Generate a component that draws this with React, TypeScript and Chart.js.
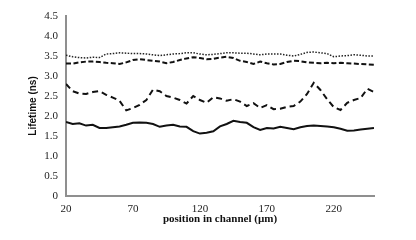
import React, { useEffect, useRef } from "react";
import { Chart, registerables } from "chart.js";

Chart.register(...registerables);

const positions = [20, 25, 30, 35, 40, 45, 50, 55, 60, 65, 70, 75, 80, 85, 90, 95, 100, 105, 110, 115, 120, 125, 130, 135, 140, 145, 150, 155, 160, 165, 170, 175, 180, 185, 190, 195, 200, 205, 210, 215, 220, 225, 230, 235, 240, 245, 250];

const dottedSeries = [3.52, 3.48, 3.46, 3.45, 3.47, 3.46, 3.55, 3.56, 3.58, 3.57, 3.56, 3.56, 3.55, 3.53, 3.51, 3.53, 3.55, 3.56, 3.58, 3.58, 3.55, 3.53, 3.54, 3.56, 3.58, 3.58, 3.57, 3.57, 3.55, 3.53, 3.55, 3.55, 3.55, 3.52, 3.5, 3.54, 3.59, 3.6, 3.58, 3.56, 3.48, 3.5, 3.51, 3.53, 3.52, 3.5, 3.5];

const dashedUpperSeries = [3.31, 3.31, 3.34, 3.36, 3.36, 3.35, 3.33, 3.32, 3.3, 3.34, 3.4, 3.42, 3.4, 3.38, 3.36, 3.32, 3.35, 3.4, 3.44, 3.47, 3.45, 3.42, 3.43, 3.46, 3.48, 3.45, 3.38, 3.35, 3.3, 3.36, 3.32, 3.29, 3.3, 3.35, 3.38, 3.37, 3.34, 3.33, 3.32, 3.33, 3.32, 3.33, 3.32, 3.31, 3.3, 3.29, 3.28];

const dashedLowerSeries = [2.8, 2.62, 2.56, 2.55, 2.6, 2.62, 2.53, 2.46, 2.38, 2.14, 2.2, 2.28, 2.4, 2.66, 2.62, 2.5, 2.46, 2.4, 2.31, 2.5, 2.4, 2.33, 2.47, 2.44, 2.38, 2.42, 2.36, 2.25, 2.32, 2.2, 2.27, 2.17, 2.18, 2.23, 2.25, 2.36, 2.55, 2.83, 2.65, 2.42, 2.22, 2.15, 2.33, 2.4, 2.45, 2.68, 2.6];

const solidSeries = [1.85, 1.8, 1.82, 1.76, 1.78, 1.7, 1.7, 1.72, 1.74, 1.78, 1.83, 1.84, 1.83, 1.8, 1.73, 1.76, 1.78, 1.74, 1.73, 1.62, 1.56, 1.58, 1.62, 1.74, 1.8, 1.88, 1.85, 1.83, 1.72, 1.65, 1.7, 1.69, 1.73, 1.7, 1.67, 1.72, 1.75, 1.76, 1.75, 1.74, 1.72, 1.68, 1.63, 1.64, 1.66, 1.68, 1.7];

const xTicks = [20, 70, 120, 170, 220];
const xTitle = "position in channel (\u00b5m)";
const yTitle = "Lifetime (ns)";

const toPoints = (vals: number[]) => vals.map((v, i) => ({ x: positions[i], y: v }));

export default function App() {
  const ref = useRef<HTMLCanvasElement | null>(null);
  useEffect(() => {
    document.body.style.margin = "0";
    const ctx = ref.current!;
    const axisColor = "#8f8f8f";
    const chart = new Chart(ctx, {
      type: "line",
      data: {
        datasets: [
          {
            data: toPoints(dottedSeries),
            borderColor: "#222",
            borderWidth: 1.5,
            borderDash: [1.5, 1.5],
            pointRadius: 0,
            tension: 0,
          },
          {
            data: toPoints(dashedUpperSeries),
            borderColor: "#111",
            borderWidth: 2,
            borderDash: [5, 2.5],
            pointRadius: 0,
            tension: 0,
          },
          {
            data: toPoints(dashedLowerSeries),
            borderColor: "#111",
            borderWidth: 2,
            borderDash: [6, 4],
            pointRadius: 0,
            tension: 0,
          },
          {
            data: toPoints(solidSeries),
            borderColor: "#111",
            borderWidth: 2,
            pointRadius: 0,
            tension: 0,
          },
        ],
      },
      options: {
        animation: false,
        responsive: false,
        maintainAspectRatio: false,
        layout: { padding: { left: 0, right: 42, top: 16, bottom: 0 } },
        plugins: { legend: { display: false }, tooltip: { enabled: false } },
        scales: {
          x: {
            type: "linear",
            min: 20,
            max: 250,
            afterBuildTicks: (scale: any) => {
              scale.ticks = xTicks.map((v) => ({ value: v }));
            },
            afterFit: (scale: any) => {
              scale.height = 44;
            },
            grid: { display: false, drawTicks: false },
            border: { display: true, color: axisColor, width: 2 },
            ticks: {
              padding: 7,
              maxRotation: 0,
              autoSkip: false,
              color: "#222",
              font: { family: "'Liberation Serif', serif", size: 11 },
            },
            title: {
              display: true,
              text: xTitle,
              color: "#111",
              font: { family: "'Liberation Serif', serif", size: 11, weight: "bold" },
              padding: { top: 0, bottom: 14 },
            },
          },
          y: {
            min: 0,
            max: 4.5,
            ticks: {
              stepSize: 0.5,
              padding: 8,
              color: "#222",
              font: { family: "'Liberation Serif', serif", size: 11 },
            },
            afterFit: (scale: any) => {
              scale.width = 66;
            },
            grid: { display: false, drawTicks: false },
            border: { display: true, color: axisColor, width: 2 },
            title: {
              display: true,
              text: yTitle,
              color: "#111",
              font: { family: "'Liberation Sans', Arial, sans-serif", size: 10, weight: "bold" },
              padding: { top: 27, bottom: 0 },
            },
          },
        },
      },
    } as any);
    return () => chart.destroy();
  }, []);
  return (
    <div style={{ position: "fixed", left: 0, top: 0, width: 416, height: 240, background: "#fff" }}>
      <canvas ref={ref} width={416} height={240} style={{ width: 416, height: 240 }} />
    </div>
  );
}
